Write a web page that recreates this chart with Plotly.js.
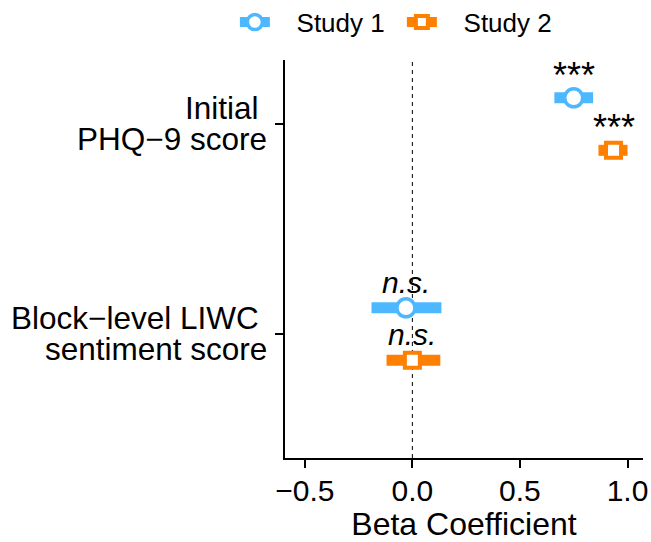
<!DOCTYPE html>
<html>
<head>
<meta charset="utf-8">
<script src="https://cdn.plot.ly/plotly-3.0.1.min.js"></script>
<style>html,body{margin:0;padding:0;background:#fff;}#chart{width:651px;height:542px;}</style>
</head>
<body>
<div id="chart"></div>
<script>
// ---- data ----
var categoryLine1 = ["Block\u2212level LIWC\u00a0", "Initial\u00a0"];
var categoryLine2 = ["sentiment score", "PHQ\u22129 score"];
var catIndex = [1, 2];
var studies = ["Study 1", "Study 2"];
var s1Est = [-0.03, 0.75];
var s1Lo  = [-0.19, 0.66];
var s1Hi  = [0.135, 0.84];
var s2Est = [0.0, 0.935];
var s2Lo  = [-0.12, 0.865];
var s2Hi  = [0.13, 1.0];
var s1Sig = ["n.s.", "***"];
var s2Sig = ["n.s.", "***"];
var xTicks = [-0.5, 0.0, 0.5, 1.0];
var xTickText = ["\u22120.5", "0.0", "0.5", "1.0"];

var blue = "#4db8ff", orange = "#ff7f00";
var dodge = 0.125;
var FONT = "Liberation Sans, Arial, Helvetica, sans-serif";
var NB = "\u00a0\u00a0\u00a0";

function segs(lo, hi, ys) {
  var x = [], y = [];
  for (var i = 0; i < lo.length; i++) { x.push(lo[i], hi[i], null); y.push(ys[i], ys[i], null); }
  return {x: x, y: y};
}
var y1 = catIndex.map(function (c) { return c + dodge; });
var y2 = catIndex.map(function (c) { return c - dodge; });
var b1 = segs(s1Lo, s1Hi, y1), b2 = segs(s2Lo, s2Hi, y2);

var traces = [
  {x: b1.x, y: b1.y, mode: "lines", line: {color: blue, width: 11}, showlegend: false, hoverinfo: "skip"},
  {x: b2.x, y: b2.y, mode: "lines", line: {color: orange, width: 11}, showlegend: false, hoverinfo: "skip"},
  {x: s1Est, y: y1, mode: "markers", marker: {symbol: "circle", size: 18, color: "#ffffff", line: {color: blue, width: 3.5}}, showlegend: false},
  {x: s2Est, y: y2, mode: "markers", marker: {symbol: "square", size: 15, color: "#ffffff", line: {color: orange, width: 4}}, showlegend: false},
  {x: [null], y: [null], name: NB + studies[0], mode: "lines+markers", line: {color: blue, width: 10}, marker: {symbol: "circle", size: 15, color: "#ffffff", line: {color: blue, width: 3.5}}},
  {x: [null], y: [null], name: NB + studies[1], mode: "lines+markers", line: {color: orange, width: 10}, marker: {symbol: "square", size: 12, color: "#ffffff", line: {color: orange, width: 4}}}
];

var annotations = [];
function addSig(est, ys, sig) {
  for (var i = 0; i < est.length; i++) {
    var star = sig[i].indexOf("*") >= 0;
    annotations.push({
      x: est[i], y: ys[i], xref: "x", yref: "y", showarrow: false,
      text: star ? sig[i] : "<i>" + sig[i] + "</i>",
      yanchor: "bottom", yshift: star ? 0 : 7,
      font: {family: FONT, size: star ? 36 : 30, color: "#000"}
    });
  }
}
addSig(s1Est, y1, s1Sig);
addSig(s2Est, y2, s2Sig);

// category labels (two lines each) anchored to the y axis categories
for (var i = 0; i < catIndex.length; i++) {
  annotations.push({x: 0, xref: "paper", y: catIndex[i], yref: "y", xanchor: "right", yanchor: "middle",
    xshift: -16, yshift: 16, showarrow: false, text: categoryLine1[i],
    font: {family: FONT, size: 31.5, color: "#000"}});
  annotations.push({x: 0, xref: "paper", y: catIndex[i], yref: "y", xanchor: "right", yanchor: "middle",
    xshift: -16, yshift: -15, showarrow: false, text: categoryLine2[i],
    font: {family: FONT, size: 31.5, color: "#000"}});
}

var layout = {
  width: 651, height: 542,
  margin: {l: 285, r: 8, t: 60, b: 84, autoexpand: false},
  paper_bgcolor: "#fff", plot_bgcolor: "#fff",
  font: {family: FONT, color: "#000", size: 28},
  showlegend: true,
  legend: {orientation: "h", x: -0.14, xanchor: "left", y: 1.095, yanchor: "middle",
           font: {family: FONT, size: 26, color: "#000"}, itemwidth: 30, entrywidth: 122,
           bgcolor: "rgba(0,0,0,0)"},
  xaxis: {
    range: [-0.592, 1.072], tickvals: xTicks, ticktext: xTickText,
    showgrid: false, zeroline: false, showline: true, linecolor: "#000", linewidth: 2,
    ticks: "outside", ticklen: 8, tickwidth: 2, tickcolor: "#000",
    tickfont: {family: FONT, size: 30, color: "#000"}, ticklabelstandoff: -3,
    title: {text: "Beta Coefficient", font: {family: FONT, size: 32, color: "#000"}, standoff: 6}
  },
  yaxis: {
    range: [0.41, 2.305], tickvals: catIndex, showticklabels: false,
    showgrid: false, zeroline: false, showline: true, linecolor: "#000", linewidth: 2,
    ticks: "outside", ticklen: 8, tickwidth: 2, tickcolor: "#000"
  },
  shapes: [{type: "line", xref: "x", yref: "paper", x0: 0, x1: 0, y0: 0, y1: 1,
            line: {color: "#000", width: 1, dash: "4px,4px"}, layer: "below"}],
  annotations: annotations
};

Plotly.newPlot("chart", traces, layout, {displayModeBar: false, staticPlot: true});
</script>
</body>
</html>
